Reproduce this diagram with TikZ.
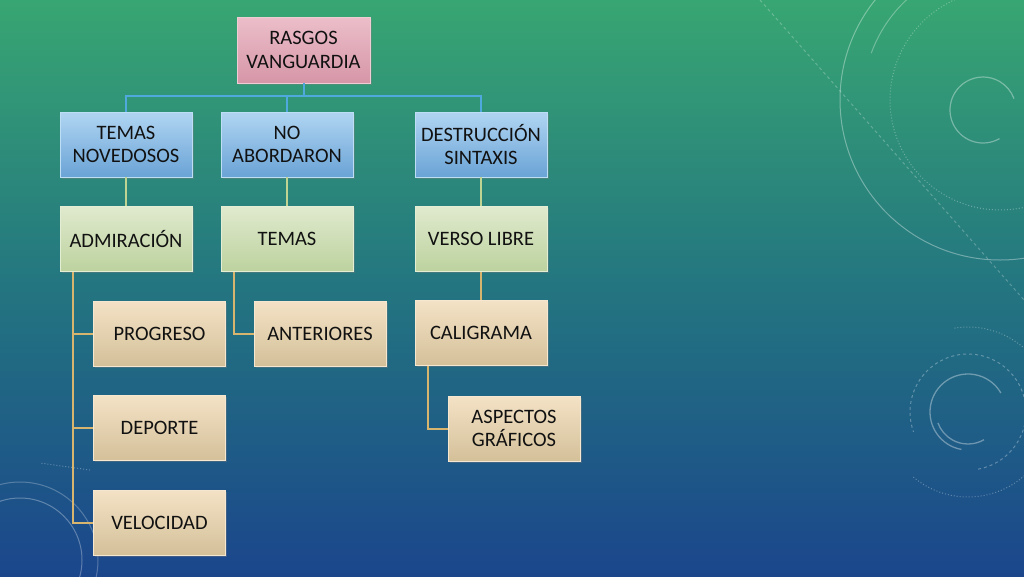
\documentclass[tikz,border=0pt]{standalone}
\usepackage{fontspec}
\setmainfont{Carlito}
\usetikzlibrary{shadows}
\definecolor{bgtop}{HTML}{38A672}
\definecolor{bgmid}{HTML}{237580}
\definecolor{bgbot}{HTML}{1B468C}
\definecolor{txt}{HTML}{111111}
\definecolor{blueline}{HTML}{4FA9DC}
\definecolor{greenline}{HTML}{BFD393}
\definecolor{tanline}{HTML}{D8B56E}
\tikzset{
  box/.style={rectangle, minimum width=132pt, minimum height=65pt, inner sep=2pt,
    align=center, text=txt, font=\fontsize{20.5}{23.5}\selectfont,
    drop shadow={shadow xshift=1.5pt, shadow yshift=-1.5pt, opacity=0.35}},
  pinkbox/.style={box, top color={rgb,255:red,236;green,190;blue,202}, bottom color={rgb,255:red,214;green,150;blue,168}, draw={rgb,255:red,238;green,205;blue,213}, line width=0.8pt},
  bluebox/.style={box, top color={rgb,255:red,176;green,213;blue,242}, bottom color={rgb,255:red,106;green,163;blue,214}, draw={rgb,255:red,190;green,222;blue,245}, line width=0.8pt},
  greenbox/.style={box, top color={rgb,255:red,224;green,234;blue,206}, bottom color={rgb,255:red,188;green,210;blue,158}, draw={rgb,255:red,228;green,238;blue,212}, line width=0.8pt},
  tanbox/.style={box, top color={rgb,255:red,244;green,226;blue,198}, bottom color={rgb,255:red,212;green,192;blue,153}, draw={rgb,255:red,246;green,232;blue,208}, line width=0.8pt},
  bline/.style={draw=blueline, line width=2pt},
  gline/.style={draw=greenline, line width=2pt},
  tline/.style={draw=tanline, line width=2pt},
  deco/.style={draw=white, opacity=0.35, line width=1pt},
}
\begin{document}
\begin{tikzpicture}[x=1pt, y=-1pt]
% background
\shade[top color=bgtop, bottom color=bgbot, middle color=bgmid] (0,0) rectangle (1024,576);
\shade[left color=black, right color=black, middle color=black, opacity=0.0] (0,0) rectangle (1024,576);
\useasboundingbox (0,0) rectangle (1024,576);
% decorations top right
\draw[deco] (1000,100) circle (160);
\draw[deco, opacity=0.3] (1000,100) ++(200:137) arc (200:330:137);
\draw[deco, dotted, opacity=0.3] (1000,100) circle (110);
\draw[deco, line width=1.2pt] (983,110) ++(60:33) arc (60:340:33);
\draw[deco, opacity=0.25, dashed] (760,0) -- (1024,300);
% decorations bottom right
\draw[deco, line width=1.3pt] (968,412) ++(100:38) arc (100:330:38);
\draw[deco, line width=1.3pt] (968,412) ++(60:32) arc (60:160:32);
\draw[deco, dashed, opacity=0.3] (968,412) ++(80:58) arc (80:-200:58);
\draw[deco, dotted, opacity=0.3] (968,412) ++(130:85) arc (130:-100:85);
% decorations bottom left
\draw[deco, opacity=0.3] (20,560) circle (62);
\draw[deco, opacity=0.25] (20,560) circle (78);
\draw[deco, dotted, opacity=0.3] (90,470) -- (40,463);

% nodes
\node[pinkbox, minimum width=133pt, minimum height=66pt] (root) at (303.5,50) {RASGOS\\VANGUARDIA};
\node[bluebox] (tn) at (126,144.5) {TEMAS\\NOVEDOSOS};
\node[bluebox] (na) at (287,144.5) {NO\\ABORDARON};
\node[bluebox] (ds) at (481,144.5) {DESTRUCCIÓN\\SINTAXIS};
\node[greenbox] (adm) at (126,239) {ADMIRACIÓN};
\node[greenbox] (tem) at (287,239) {TEMAS};
\node[greenbox] (vl) at (481,239) {VERSO LIBRE};
\node[tanbox] (prog) at (159.5,333.5) {PROGRESO};
\node[tanbox] (ant) at (320,333.5) {ANTERIORES};
\node[tanbox] (cal) at (481,333) {CALIGRAMA};
\node[tanbox] (dep) at (159.5,428) {DEPORTE};
\node[tanbox] (vel) at (159.5,522.5) {VELOCIDAD};
\node[tanbox] (asp) at (514,428.5) {ASPECTOS\\GRÁFICOS};

% connectors
\draw[bline] (root.south) -- ++(0,13) -| (tn.north);
\draw[bline] (root.south) -- ++(0,13) -| (na.north);
\draw[bline] (root.south) -- ++(0,13) -| (ds.north);
\draw[gline] (tn.south) -- (adm.north);
\draw[gline] (na.south) -- (tem.north);
\draw[gline] (ds.south) -- (vl.north);
\draw[tline] ([xshift=13pt]adm.south west) |- (prog.west);
\draw[tline] ([xshift=13pt]adm.south west) |- (dep.west);
\draw[tline] ([xshift=13pt]adm.south west) |- (vel.west);
\draw[tline] ([xshift=13pt]tem.south west) |- (ant.west);
\draw[tline] (vl.south) -- (cal.north);
\draw[tline] ([xshift=13pt]cal.south west) |- (asp.west);
\end{tikzpicture}
\end{document}
